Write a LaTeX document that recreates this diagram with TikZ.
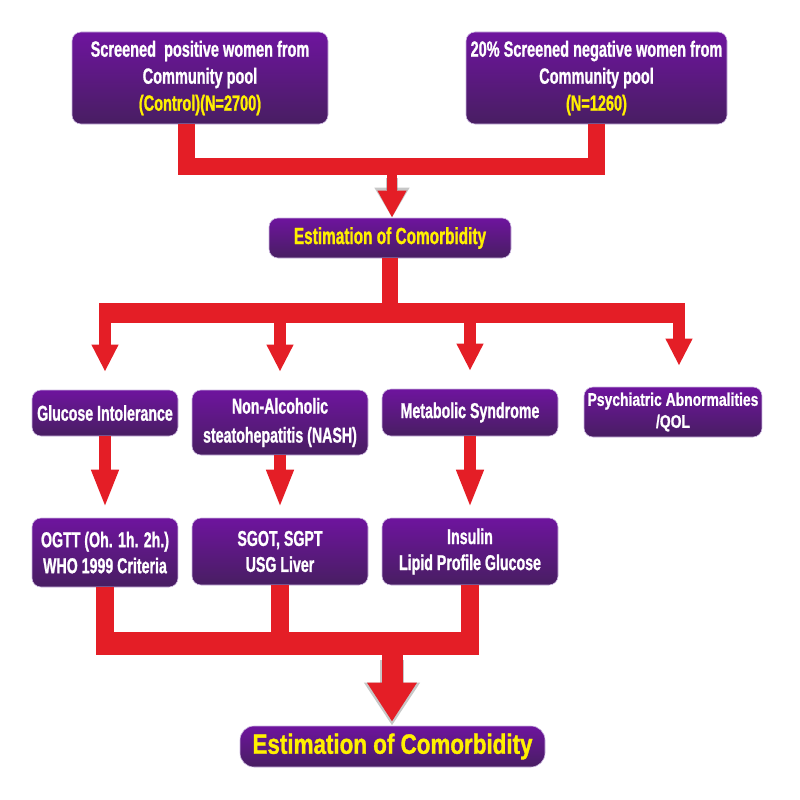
\documentclass[tikz,border=0pt]{standalone}
\usepackage{fontspec}
\setmainfont{Liberation Sans}
\newfontfamily\cfa{Liberation Sans}[FakeStretch=0.66, FakeBold=1]
\newfontfamily\cfb{Liberation Sans}[FakeStretch=0.76, FakeBold=1]
\newfontfamily\cfc{Liberation Sans}[FakeStretch=0.80, FakeBold=1.2]
\usetikzlibrary{arrows.meta,calc}
\definecolor{boxtop}{RGB}{110,20,158}
\definecolor{boxbot}{RGB}{72,30,98}
\definecolor{redbar}{RGB}{228,30,38}
\definecolor{ytxt}{RGB}{255,240,0}
\definecolor{boxedge}{RGB}{205,185,225}
\tikzset{
  pbox/.style={rounded corners=9pt, top color=boxtop, bottom color=boxbot, draw=boxedge,
    line width=0.6pt, text=white, align=center, inner sep=0pt},
  rline/.style={draw=redbar, line width=#1, line join=miter},
  rarrow/.style n args={3}{draw=redbar, line width=#1, -{Triangle[width=#2, length=#3]}},
  sarrow/.style n args={3}{draw=black!55, opacity=0.4, line width=#1, -{Triangle[width=#2, length=#3]}},
  fbig/.style={font=\cfa\bfseries\fontsize{22}{27}\selectfont},
  fmid/.style={font=\cfa\bfseries\fontsize{21.5}{26}\selectfont},
}
\begin{document}
\begin{tikzpicture}[x=1pt,y=-1pt]
\useasboundingbox (0,0) rectangle (800,800);
% boxes
\node[pbox, fbig, minimum width=256pt, minimum height=92pt] (A) at (200,78)
  {Screened\ \ positive women from\\Community pool\\{\color{ytxt}(Control)(N=2700)}};
\node[pbox, fbig, minimum width=261pt, minimum height=92pt] (B) at (596.5,78)
  {20\% Screened negative women from\\Community pool\\{\color{ytxt}(N=1260)}};
\node[pbox, font=\cfa\bfseries\fontsize{23.3}{27}\selectfont, text=ytxt, minimum width=242pt, minimum height=40pt] (C) at (390,238)
  {Estimation of Comorbidity};
\node[pbox, fmid, minimum width=146pt, minimum height=46pt] (G) at (105,413)
  {Glucose Intolerance};
\node[pbox, fmid, font=\cfa\bfseries\fontsize{21.5}{29}\selectfont, minimum width=176pt, minimum height=65pt] (N) at (280,422.5)
  {Non-Alcoholic\\steatohepatitis (NASH)};
\node[pbox, fmid, minimum width=176pt, minimum height=47pt] (M) at (470,412.5)
  {Metabolic Syndrome};
\node[pbox, font=\cfb\bfseries\fontsize{18.3}{22}\selectfont, minimum width=178pt, minimum height=50pt] (P) at (673,412)
  {Psychiatric Abnormalities\\/QOL};
\node[pbox, fmid, minimum width=146pt, minimum height=69pt] (O) at (105,552.5)
  {OGTT (Oh. 1h. 2h.)\\WHO 1999 Criteria};
\node[pbox, fmid, minimum width=176pt, minimum height=67pt] (S) at (280,551.5)
  {SGOT, SGPT\\USG Liver};
\node[pbox, fmid, minimum width=176pt, minimum height=67pt] (I) at (470,551.5)
  {Insulin\\Lipid Profile Glucose};
\node[pbox, rounded corners=14pt, text=ytxt, font=\cfc\bfseries\fontsize{28}{32}\selectfont,
  minimum width=305pt, minimum height=41pt] (E) at (392.5,746.5)
  {Estimation of Comorbidity};
% top connector
\coordinate (j1) at (392,166);
\draw[rline=17pt] ($(A.south)+(-14,0)$) |- (j1) -| (B.south);
\draw[sarrow={12pt}{33pt}{30pt}] ($(j1)+(0,12)$) -- (C.north -| j1);
\draw[rarrow={10pt}{27pt}{27pt}] (j1) -- (C.north -| j1);
% second connector
\coordinate (j2) at (390,313);
\draw[rline=16pt] (C.south) -- (C.south |- j2);
\draw[rline=20pt] ($(G.north |- j2)+(-6,0)$) -- ($(P.north |- j2)+(12,0)$);
\draw[rarrow={12pt}{25pt}{27pt}] (G.north |- j2) -- ($(G.north)+(0,-18)$);
\draw[rarrow={12pt}{25pt}{27pt}] (N.north |- j2) -- ($(N.north)+(0,-18)$);
\draw[rarrow={12pt}{25pt}{27pt}] (M.north |- j2) -- ($(M.north)+(0,-18)$);
\draw[rarrow={12pt}{25pt}{27pt}] ($(P.north |- j2)+(6,0)$) -- ($(P.north)+(6,-21)$);
% row arrows
\draw[rarrow={12pt}{25pt}{38pt}] (G.south) -- ($(O.north)+(0,-10)$);
\draw[rarrow={12pt}{25pt}{38pt}] (N.south) -- ($(S.north)+(0,-10)$);
\draw[rarrow={12pt}{25pt}{38pt}] (M.south) -- ($(I.north)+(0,-10)$);
% bottom connector
\coordinate (j3) at (392,643.5);
\draw[rline=18pt] (O.south) |- (j3) -| (I.south);
\draw[rline=18pt] (S.south) -- (S.south |- j3);
\draw[rline=23pt] ($(O.south |- j3)+(-9,0)$) -- ($(I.south |- j3)+(9,0)$);
\draw[sarrow={24pt}{53pt}{43pt}] ($(j3)+(0,16)$) -- (E.north -| j3);
\draw[rarrow={21pt}{47pt}{39pt}] (j3) -- ($(E.north -| j3)+(0,-4)$);
\end{tikzpicture}
\end{document}
